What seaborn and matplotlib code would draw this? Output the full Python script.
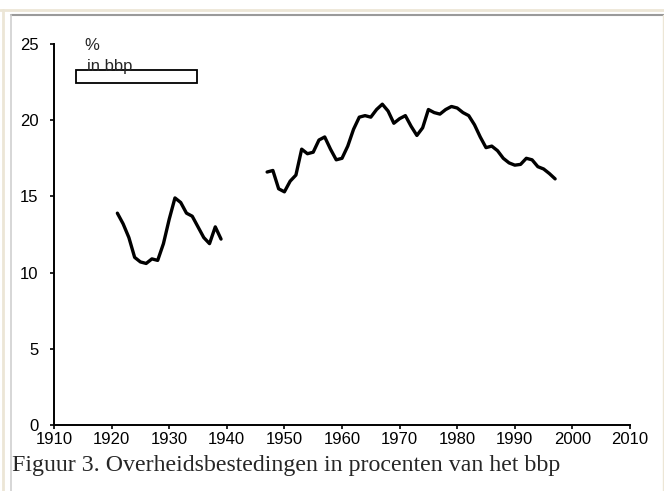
import numpy as np
import pandas as pd
import matplotlib
matplotlib.use("Agg")
import matplotlib.pyplot as plt
from matplotlib.patches import Rectangle
from matplotlib.lines import Line2D
import seaborn as sns

# data (government spending, % of GDP)
years_prewar = list(range(1921, 1940))
share_prewar = [13.9, 13.2, 12.3, 11.0, 10.7, 10.6, 10.9, 10.8, 11.9, 13.5,
                14.9, 14.6, 13.9, 13.7, 13.0, 12.3, 11.9, 13.0, 12.2]
years_postwar = list(range(1947, 1998))
share_postwar = [16.6, 16.7, 15.5, 15.3, 16.0, 16.4, 18.1, 17.8, 17.9, 18.7,
                 18.9, 18.1, 17.4, 17.5, 18.3, 19.4, 20.2, 20.3, 20.2, 20.7,
                 21.05, 20.6, 19.8, 20.1, 20.3, 19.6, 19.0, 19.5, 20.7, 20.5,
                 20.4, 20.7, 20.9, 20.8, 20.5, 20.3, 19.7, 18.9, 18.2, 18.3,
                 18.0, 17.5, 17.2, 17.05, 17.1, 17.5, 17.4, 16.95, 16.8, 16.5,
                 16.15]
x_ticks = list(range(1910, 2011, 10))
y_ticks = [0, 5, 10, 15, 20, 25]
caption = "Figuur 3. Overheidsbestedingen in procenten van het bbp"

df = pd.concat([
    pd.DataFrame({"jaar": years_prewar, "pct": share_prewar, "deel": "voor"}),
    pd.DataFrame({"jaar": years_postwar, "pct": share_postwar, "deel": "na"}),
])

sns.set_style("white")
plt.rcParams["font.family"] = ["Liberation Sans", "DejaVu Sans"]

fig = plt.figure(figsize=(6.64, 4.91), dpi=100)
ax = fig.add_axes([54 / 664, 66 / 491, 576 / 664, 381 / 491])

sns.lineplot(data=df, x="jaar", y="pct", units="deel", estimator=None,
             color="black", linewidth=2.4, ax=ax,
             solid_joinstyle="round", solid_capstyle="round")

ax.set_xlim(1910, 2010)
ax.set_ylim(0, 25)
ax.set_xticks(x_ticks)
ax.set_yticks(y_ticks)
ax.set_xlabel("")
ax.set_ylabel("")
for s in ["top", "right"]:
    ax.spines[s].set_visible(False)
for s in ["left", "bottom"]:
    ax.spines[s].set_color("black")
    ax.spines[s].set_linewidth(1.4)
ax.tick_params(axis="x", direction="out", length=3, width=1.2, pad=2,
               labelsize=12, colors="black")
ax.tick_params(axis="y", direction="out", length=3, width=1.2, pad=8,
               labelsize=12, colors="black")
ax.tick_params(left=True, bottom=True)

# legend-like box
ax.add_patch(Rectangle((0.038, 0.898), 0.21, 0.034, transform=ax.transAxes,
                       facecolor="white", edgecolor="black", linewidth=1.3,
                       clip_on=False))
ax.text(0.052, 0.997, "%", transform=ax.transAxes, fontsize=12,
        va="center", ha="left")
ax.text(0.057, 0.94, "in bbp", transform=ax.transAxes, fontsize=12,
        va="center", ha="left")

# caption
fig.text(12 / 664, 1 - 466 / 491, caption, family=["Liberation Serif"],
         fontsize=17.2, va="center", ha="left")

# page frame
fig.add_artist(Line2D([0, 1], [1 - 9.5 / 491] * 2, color="#ece6d6", lw=2))
fig.add_artist(Line2D([2.5 / 664] * 2, [0, 1 - 9.5 / 491], color="#ece6d6", lw=2))
fig.add_artist(Line2D([11 / 664, 1], [1 - 15 / 491] * 2, color="#9a9a9a", lw=1.5))
fig.add_artist(Line2D([11 / 664] * 2, [0, 1 - 15 / 491], color="#cfcfcf", lw=1.2))
fig.add_artist(Line2D([663 / 664] * 2, [0, 1 - 15 / 491], color="#ece6d6", lw=1))

fig.savefig("out.png", dpi=100)
